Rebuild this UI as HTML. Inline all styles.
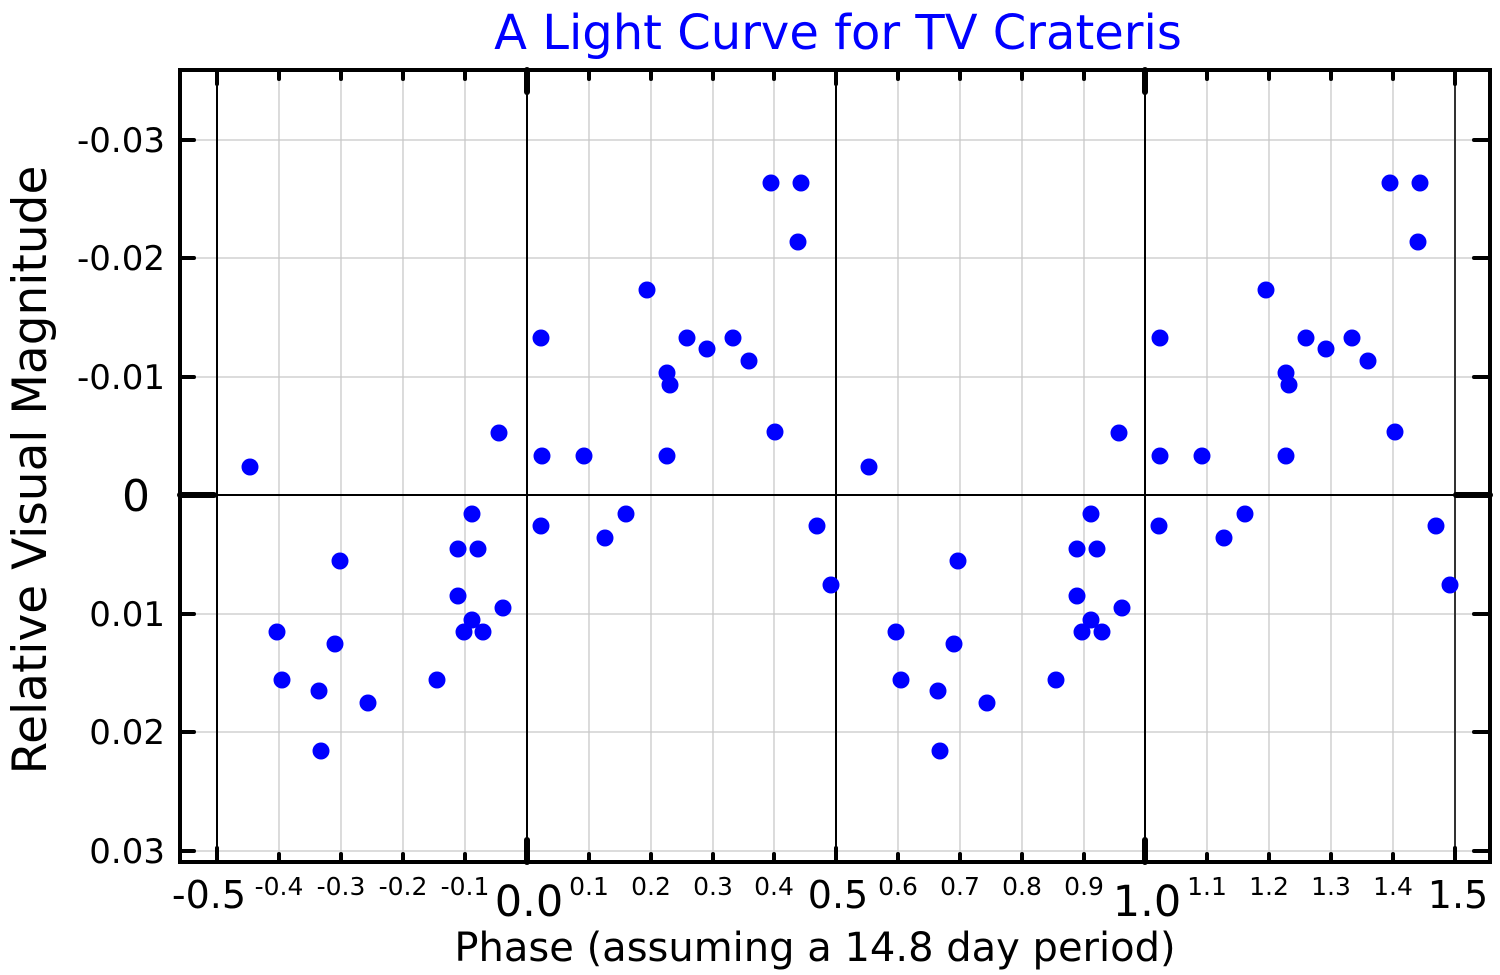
<!DOCTYPE html>
<html><head><style>body{margin:0;background:#fff}svg{display:block}text{font-family:"DejaVu Sans","Liberation Sans",sans-serif}</style></head>
<body>
<svg width="1500" height="975" viewBox="0 0 1500 975" xmlns="http://www.w3.org/2000/svg">
<text x="838" y="49" text-anchor="middle" font-size="48" fill="#0000ff">A Light Curve for TV Crateris</text>
<g stroke="#c8c8c8" stroke-width="1.3">
<line x1="279" y1="70" x2="279" y2="862"/><line x1="341" y1="70" x2="341" y2="862"/><line x1="403" y1="70" x2="403" y2="862"/><line x1="465" y1="70" x2="465" y2="862"/>
<line x1="589" y1="70" x2="589" y2="862"/><line x1="651" y1="70" x2="651" y2="862"/><line x1="713" y1="70" x2="713" y2="862"/><line x1="774" y1="70" x2="774" y2="862"/>
<line x1="898" y1="70" x2="898" y2="862"/><line x1="960" y1="70" x2="960" y2="862"/><line x1="1022" y1="70" x2="1022" y2="862"/><line x1="1084" y1="70" x2="1084" y2="862"/>
<line x1="1207" y1="70" x2="1207" y2="862"/><line x1="1269" y1="70" x2="1269" y2="862"/><line x1="1331" y1="70" x2="1331" y2="862"/><line x1="1393" y1="70" x2="1393" y2="862"/>
<line x1="180" y1="140" x2="1490" y2="140"/><line x1="180" y1="258" x2="1490" y2="258"/><line x1="180" y1="377" x2="1490" y2="377"/><line x1="180" y1="614" x2="1490" y2="614"/><line x1="180" y1="732" x2="1490" y2="732"/><line x1="180" y1="851" x2="1490" y2="851"/>
</g>
<g stroke="#000" stroke-width="2">
<line x1="217" y1="70" x2="217" y2="862"/><line x1="527" y1="70" x2="527" y2="862"/><line x1="836" y1="70" x2="836" y2="862"/><line x1="1145" y1="70" x2="1145" y2="862"/><line x1="1455" y1="70" x2="1455" y2="862" stroke="#333"/>
<line x1="180" y1="495" x2="1490" y2="495"/>
</g>
<g stroke="#000" stroke-linecap="round">
<g stroke-width="4">
<line x1="279" y1="862" x2="279" y2="854"/><line x1="341" y1="862" x2="341" y2="854"/><line x1="403" y1="862" x2="403" y2="854"/><line x1="465" y1="862" x2="465" y2="854"/>
<line x1="589" y1="862" x2="589" y2="854"/><line x1="651" y1="862" x2="651" y2="854"/><line x1="713" y1="862" x2="713" y2="854"/><line x1="774" y1="862" x2="774" y2="854"/>
<line x1="898" y1="862" x2="898" y2="854"/><line x1="960" y1="862" x2="960" y2="854"/><line x1="1022" y1="862" x2="1022" y2="854"/><line x1="1084" y1="862" x2="1084" y2="854"/>
<line x1="1207" y1="862" x2="1207" y2="854"/><line x1="1269" y1="862" x2="1269" y2="854"/><line x1="1331" y1="862" x2="1331" y2="854"/><line x1="1393" y1="862" x2="1393" y2="854"/>
<line x1="279" y1="70" x2="279" y2="79"/><line x1="341" y1="70" x2="341" y2="79"/><line x1="403" y1="70" x2="403" y2="79"/><line x1="465" y1="70" x2="465" y2="79"/>
<line x1="589" y1="70" x2="589" y2="79"/><line x1="651" y1="70" x2="651" y2="79"/><line x1="713" y1="70" x2="713" y2="79"/><line x1="774" y1="70" x2="774" y2="79"/>
<line x1="898" y1="70" x2="898" y2="79"/><line x1="960" y1="70" x2="960" y2="79"/><line x1="1022" y1="70" x2="1022" y2="79"/><line x1="1084" y1="70" x2="1084" y2="79"/>
<line x1="1207" y1="70" x2="1207" y2="79"/><line x1="1269" y1="70" x2="1269" y2="79"/><line x1="1331" y1="70" x2="1331" y2="79"/><line x1="1393" y1="70" x2="1393" y2="79"/>
<line x1="217" y1="862" x2="217" y2="848"/><line x1="217" y1="70" x2="217" y2="84"/><line x1="836" y1="862" x2="836" y2="848"/><line x1="836" y1="70" x2="836" y2="84"/><line x1="1455" y1="862" x2="1455" y2="848"/><line x1="1455" y1="70" x2="1455" y2="84"/>
<line x1="180" y1="140" x2="194" y2="140"/><line x1="180" y1="258" x2="194" y2="258"/><line x1="180" y1="377" x2="194" y2="377"/><line x1="180" y1="614" x2="194" y2="614"/><line x1="180" y1="732" x2="194" y2="732"/><line x1="180" y1="851" x2="194" y2="851"/>
<line x1="1490" y1="140" x2="1474" y2="140"/><line x1="1490" y1="258" x2="1474" y2="258"/><line x1="1490" y1="377" x2="1474" y2="377"/><line x1="1490" y1="614" x2="1474" y2="614"/><line x1="1490" y1="732" x2="1474" y2="732"/><line x1="1490" y1="851" x2="1474" y2="851"/>
</g>
<g stroke-width="6">
<line x1="527" y1="862" x2="527" y2="840"/><line x1="527" y1="70" x2="527" y2="92"/><line x1="1145" y1="862" x2="1145" y2="840"/><line x1="1145" y1="70" x2="1145" y2="92"/>
<line x1="180" y1="495" x2="214" y2="495"/><line x1="1490" y1="495" x2="1456" y2="495"/>
</g>
</g>
<rect x="180" y="70" width="1310" height="792" fill="none" stroke="#000" stroke-width="4"/>
<g font-size="34" text-anchor="end">
<text x="165" y="152">-0.03</text><text x="165" y="270">-0.02</text><text x="165" y="389">-0.01</text><text x="150" y="511" font-size="44">0</text><text x="165" y="626">0.01</text><text x="165" y="744">0.02</text><text x="165" y="863">0.03</text>
</g>
<g font-size="25" text-anchor="middle">
<text x="279" y="895">-0.4</text><text x="341" y="895">-0.3</text><text x="403" y="895">-0.2</text><text x="465" y="895">-0.1</text>
<text x="589" y="895">0.1</text><text x="651" y="895">0.2</text><text x="713" y="895">0.3</text><text x="774" y="895">0.4</text>
<text x="898" y="895">0.6</text><text x="960" y="895">0.7</text><text x="1022" y="895">0.8</text><text x="1084" y="895">0.9</text>
<text x="1207" y="895">1.1</text><text x="1269" y="895">1.2</text><text x="1331" y="895">1.3</text><text x="1393" y="895">1.4</text>
</g>
<g font-size="38" text-anchor="middle">
<text x="209" y="908">-0.5</text><text x="838" y="908">0.5</text><text x="1458" y="908">1.5</text>
<text x="529" y="916" font-size="43">0.0</text><text x="1147" y="916" font-size="43">1.0</text>
</g>
<text x="815" y="961" text-anchor="middle" font-size="40">Phase (assuming a 14.8 day period)</text>
<text transform="translate(46,470) rotate(-90)" text-anchor="middle" font-size="47">Relative Visual Magnitude</text>
<g fill="#0000ff">
<circle cx="250" cy="467" r="8.5"/><circle cx="277" cy="632" r="8.5"/><circle cx="282" cy="680" r="8.5"/><circle cx="319" cy="691" r="8.5"/><circle cx="321" cy="751" r="8.5"/><circle cx="335" cy="644" r="8.5"/><circle cx="340" cy="561" r="8.5"/><circle cx="368" cy="703" r="8.5"/><circle cx="437" cy="680" r="8.5"/><circle cx="458" cy="549" r="8.5"/><circle cx="458" cy="596" r="8.5"/><circle cx="464" cy="632" r="8.5"/><circle cx="472" cy="514" r="8.5"/><circle cx="472" cy="620" r="8.5"/><circle cx="478" cy="549" r="8.5"/><circle cx="483" cy="632" r="8.5"/><circle cx="499" cy="433" r="8.5"/><circle cx="503" cy="608" r="8.5"/>
<circle cx="541" cy="338" r="8.5"/><circle cx="542" cy="456" r="8.5"/><circle cx="541" cy="526" r="8.5"/><circle cx="584" cy="456" r="8.5"/><circle cx="605" cy="538" r="8.5"/><circle cx="626" cy="514" r="8.5"/><circle cx="647" cy="290" r="8.5"/><circle cx="667" cy="373" r="8.5"/><circle cx="667" cy="456" r="8.5"/><circle cx="670" cy="385" r="8.5"/><circle cx="687" cy="338" r="8.5"/><circle cx="707" cy="349" r="8.5"/><circle cx="733" cy="338" r="8.5"/><circle cx="749" cy="361" r="8.5"/><circle cx="771" cy="183" r="8.5"/><circle cx="775" cy="432" r="8.5"/><circle cx="798" cy="242" r="8.5"/><circle cx="801" cy="183" r="8.5"/><circle cx="817" cy="526" r="8.5"/><circle cx="831" cy="585" r="8.5"/>
<circle cx="869" cy="467" r="8.5"/><circle cx="896" cy="632" r="8.5"/><circle cx="901" cy="680" r="8.5"/><circle cx="938" cy="691" r="8.5"/><circle cx="940" cy="751" r="8.5"/><circle cx="954" cy="644" r="8.5"/><circle cx="958" cy="561" r="8.5"/><circle cx="987" cy="703" r="8.5"/><circle cx="1056" cy="680" r="8.5"/><circle cx="1077" cy="549" r="8.5"/><circle cx="1077" cy="596" r="8.5"/><circle cx="1082" cy="632" r="8.5"/><circle cx="1091" cy="514" r="8.5"/><circle cx="1091" cy="620" r="8.5"/><circle cx="1097" cy="549" r="8.5"/><circle cx="1102" cy="632" r="8.5"/><circle cx="1119" cy="433" r="8.5"/><circle cx="1122" cy="608" r="8.5"/>
<circle cx="1160" cy="338" r="8.5"/><circle cx="1160" cy="456" r="8.5"/><circle cx="1159" cy="526" r="8.5"/><circle cx="1202" cy="456" r="8.5"/><circle cx="1224" cy="538" r="8.5"/><circle cx="1245" cy="514" r="8.5"/><circle cx="1266" cy="290" r="8.5"/><circle cx="1286" cy="373" r="8.5"/><circle cx="1286" cy="456" r="8.5"/><circle cx="1289" cy="385" r="8.5"/><circle cx="1306" cy="338" r="8.5"/><circle cx="1326" cy="349" r="8.5"/><circle cx="1352" cy="338" r="8.5"/><circle cx="1368" cy="361" r="8.5"/><circle cx="1390" cy="183" r="8.5"/><circle cx="1395" cy="432" r="8.5"/><circle cx="1418" cy="242" r="8.5"/><circle cx="1420" cy="183" r="8.5"/><circle cx="1436" cy="526" r="8.5"/><circle cx="1450" cy="585" r="8.5"/>
</g>
</svg>
</body></html>
